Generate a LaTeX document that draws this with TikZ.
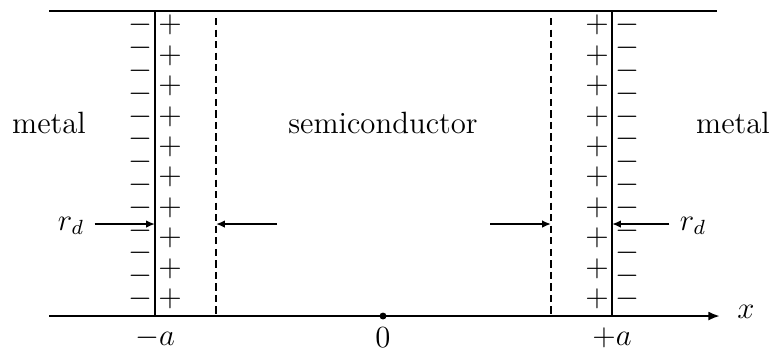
\documentclass[tikz,border=0pt]{standalone}
\usepackage{amsmath}
\usetikzlibrary{arrows.meta, positioning}
\tikzset{%
   % solid boundaries and the x axis
   wall/.style={line width=.9pt},
   depl/.style={line width=.8pt, dash pattern=on 2.8pt off 1.7pt},
   rdarrow/.style={line width=.8pt, -{Latex[length=3.5pt,width=3pt]}},
   axis/.style={line width=.9pt, -{Latex[length=4.5pt,width=3.5pt]}},
   lbl/.style={font=\large, inner sep=1pt},
   rdlbl/.style={font=\large, inner sep=3.9pt},
   % charge signs: a thin box round the math axis, so the rows can sit close
   chg/.style={font=\large, inner sep=0pt, text height=4.6pt, text depth=-1.4pt},
   origin/.style={circle, fill=black, inner sep=0pt, minimum size=2.7pt},
}

\begin{document}
\begin{tikzpicture}[x=.39pt, y=-.39pt]
   \useasboundingbox (0,0) rectangle (772,353);
   \coordinate (TL) at (49,11);
   \coordinate (TR) at (717,11);
   \coordinate (BL) at (49,316);
   \coordinate (BR) at (720,316);
   \coordinate (LWt) at (155,11);
   \coordinate (LWb) at (155,316);
   \coordinate (RWt) at (612,11);
   \coordinate (RWb) at (612,316);
   \coordinate (LDt) at (216,18);
   \coordinate (LDb) at (216,316);
   \coordinate (RDt) at (551,18);
   \coordinate (RDb) at (551,316);
   \draw[wall] (TL) -- (TR);
   \draw[axis] (BL) -- (BR);
   \draw[wall] (LWt) -- (LWb);
   \draw[wall] (RWt) -- (RWb);
   \draw[depl] (LDt) -- (LDb);
   \draw[depl] (RDt) -- (RDb);
   % surface charges
   \foreach \i in {0,...,12}{
      \node[chg] (lm\i) at (140,{27+\i*22.8}) {$-$};
      \node[chg] (rm\i) at (627,{27+\i*22.8}) {$-$};
   }
   \foreach \i in {0,...,9}{
      \node[chg] (lp\i) at (170,{27+\i*30.4}) {$+$};
      \node[chg] (rp\i) at (597,{27+\i*30.4}) {$+$};
   }
   \node[lbl] (metL) at (49,123) {metal};
   \node[lbl] (semi) at (383,123) {semiconductor};
   \node[lbl] (metR) at (733,123) {metal};
   % depletion width markers
   \node[rdlbl] (rdL) at (71,226) {$r_d$};
   \node[rdlbl] (rdR) at (693,226) {$r_d$};
   \coordinate (LWm) at (155,224);
   \coordinate (RWm) at (612,224);
   \coordinate (LDm) at (216,224);
   \coordinate (RDm) at (551,224);
   \coordinate (inL) at (277,224);
   \coordinate (inR) at (490,224);
   \draw[rdarrow] (rdL.east |- LWm) -- (LWm);
   \draw[rdarrow] (inL) -- (LDm);
   \draw[rdarrow] (inR) -- (RDm);
   \draw[rdarrow] (rdR.west |- RWm) -- (RWm);
   % axis labels
   \node[origin] (O) at (383,316) {};
   \node[lbl] (ma) at (155,338) {$-a$};
   \node[lbl] (zero) at (383,338) {$0$};
   \node[lbl] (pa) at (612,338) {$+a$};
   \node[lbl] (xl) at (746,312) {$x$};
\end{tikzpicture}
\end{document}
